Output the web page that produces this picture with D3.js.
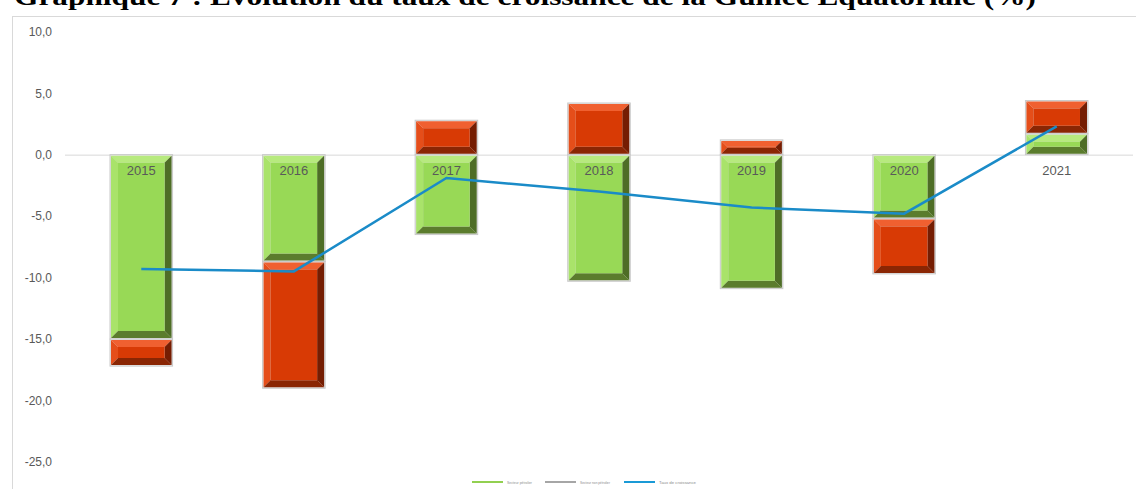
<!DOCTYPE html>
<html>
<head>
<meta charset="utf-8">
<script src="https://cdn.jsdelivr.net/npm/d3@7"></script>
<style>
  html, body { margin: 0; padding: 0; background: #fff; }
  svg { display: block; }
</style>
</head>
<body>
<svg id="chart" width="1136" height="489"></svg>
<script>
const years = ["2015", "2016", "2017", "2018", "2019", "2020", "2021"];
const secteurPetrolier = [-15.0, -8.7, -6.5, -10.3, -10.9, -5.2, 1.7];
const secteurNonPetrolier = [-2.2, -10.3, 2.8, 4.2, 1.2, -4.5, 2.7];
const tauxCroissance = [-9.3, -9.5, -1.9, -3.0, -4.3, -4.8, 2.3];
const yTicks = [10, 5, 0, -5, -10, -15, -20, -25];
const legendLabels = ["Secteur pétrolier", "Secteur non pétrolier", "Taux de croissance"];
const titleText = "Graphique 7 : Évolution du taux de croissance de la Guinée Equatoriale (%)";

const svg = d3.select("#chart");
const W = 1136, H = 489;

// Title (cut off at top like the reference)
svg.append("text")
  .attr("x", 14).attr("y", 5)
  .attr("font-family", "Liberation Serif, Times New Roman, serif")
  .attr("font-weight", "bold")
  .attr("font-size", 25)
  .attr("textLength", 1022)
  .attr("lengthAdjust", "spacingAndGlyphs")
  .attr("fill", "#000")
  .text(titleText);

// Chart frame
svg.append("rect")
  .attr("x", 12.5).attr("y", 16.5)
  .attr("width", W).attr("height", H)
  .attr("fill", "#fff").attr("stroke", "#d9d9d9").attr("stroke-width", 1);

const x = d3.scaleBand().domain(years).range([65, 1133]).paddingInner(0.59).paddingOuter(0.295);
const y = d3.scaleLinear().domain([-25, 10]).range([462, 31.7]);

const fmt = v => d3.format(".1f")(v).replace(".", ",").replace("−", "-");

// Y axis labels
const yAxis = d3.axisLeft(y).tickValues(yTicks).tickFormat(fmt).tickSize(0).tickPadding(0);
const yg = svg.append("g").attr("transform", "translate(52,0)").call(yAxis);
yg.select(".domain").remove();
yg.selectAll("text")
  .attr("font-family", "Liberation Sans, Arial, sans-serif")
  .attr("font-size", 12).attr("fill", "#595959");

// Zero line
svg.append("line")
  .attr("x1", 65).attr("x2", 1133)
  .attr("y1", y(0) + 0.5).attr("y2", y(0) + 0.5)
  .attr("stroke", "#d9d9d9").attr("stroke-width", 1);

// Stacked data
const rows = years.map((yr, i) => ({ year: yr, petrolier: secteurPetrolier[i], nonPetrolier: secteurNonPetrolier[i] }));
const stack = d3.stack().keys(["petrolier", "nonPetrolier"]).offset(d3.stackOffsetDiverging);
const series = stack(rows);

const palettes = {
  petrolier: { face: "#98d956", top: "#b7ea7e", left: "#a9e36a", right: "#4e6d26", bottom: "#5b7c2d" },
  nonPetrolier: { face: "#d83a05", top: "#f06030", left: "#e54e1a", right: "#751d02", bottom: "#8a2604" }
};

const segs = [];
series.forEach(s => {
  s.forEach(d => {
    const x0 = x(d.data.year), w = x.bandwidth();
    const yTop = y(Math.max(d[0], d[1])), yBot = y(Math.min(d[0], d[1]));
    segs.push({ key: s.key, x: x0, y: yTop, w: w, h: yBot - yTop });
  });
});

const gBars = svg.append("g");
const seg = gBars.selectAll("g.seg").data(segs).join("g").attr("class", "seg");

seg.append("rect")
  .attr("x", d => d.x).attr("y", d => d.y)
  .attr("width", d => d.w).attr("height", d => d.h)
  .attr("fill", "#e6e6e6").attr("stroke", "#c9c9c9").attr("stroke-width", 1);

function bevelPolys(d) {
  const i = 1;
  const x0 = d.x + i, y0 = d.y + i, x1 = d.x + d.w - i, y1 = d.y + d.h - i;
  const b = Math.max(1, Math.min(7, (y1 - y0) / 2 - 0.5, (x1 - x0) / 2));
  const ix0 = x0 + b, iy0 = y0 + b, ix1 = x1 - b, iy1 = y1 - b;
  const p = palettes[d.key];
  return [
    { pts: [[x0, y0], [x1, y0], [ix1, iy0], [ix0, iy0]], fill: p.top },
    { pts: [[x0, y0], [ix0, iy0], [ix0, iy1], [x0, y1]], fill: p.left },
    { pts: [[x1, y0], [x1, y1], [ix1, iy1], [ix1, iy0]], fill: p.right },
    { pts: [[x0, y1], [ix0, iy1], [ix1, iy1], [x1, y1]], fill: p.bottom },
    { pts: [[ix0, iy0], [ix1, iy0], [ix1, iy1], [ix0, iy1]], fill: p.face }
  ];
}

seg.selectAll("polygon").data(d => bevelPolys(d)).join("polygon")
  .attr("points", d => d.pts.map(p => p.join(",")).join(" "))
  .attr("fill", d => d.fill);

// Category labels (just below zero line)
const xAxis = d3.axisBottom(x).tickSize(0).tickPadding(0);
const xg = svg.append("g").attr("transform", `translate(0,${y(0) + 20})`).call(xAxis);
xg.select(".domain").remove();
xg.selectAll("text")
  .attr("dy", 0)
  .attr("font-family", "Liberation Sans, Arial, sans-serif")
  .attr("font-size", 13).attr("fill", "#595959");

// Growth line
const line = d3.line()
  .x((d, i) => x(years[i]) + x.bandwidth() / 2)
  .y(d => y(d));
svg.append("path")
  .datum(tauxCroissance)
  .attr("d", line)
  .attr("fill", "none")
  .attr("stroke", "#1a8bc8")
  .attr("stroke-width", 2.5);

// Legend
const legendItems = [
  { label: legendLabels[0], color: "#92d050", x: 472, tw: 25 },
  { label: legendLabels[1], color: "#a6a6a6", x: 545, tw: 30 },
  { label: legendLabels[2], color: "#1a9ad6", x: 624, tw: 37 }
];
const lg = svg.append("g").attr("transform", "translate(0,482)");
const li = lg.selectAll("g").data(legendItems).join("g").attr("transform", d => `translate(${d.x},0)`);
li.append("line").attr("x1", 0).attr("x2", 31).attr("y1", 0).attr("y2", 0)
  .attr("stroke", d => d.color).attr("stroke-width", 2);
li.append("text").attr("x", 35).attr("y", 1.5)
  .attr("font-family", "Liberation Sans, Arial, sans-serif")
  .attr("font-size", 4).attr("fill", "#8c8c8c")
  .attr("textLength", d => d.tw).attr("lengthAdjust", "spacingAndGlyphs")
  .text(d => d.label);
</script>
</body>
</html>
